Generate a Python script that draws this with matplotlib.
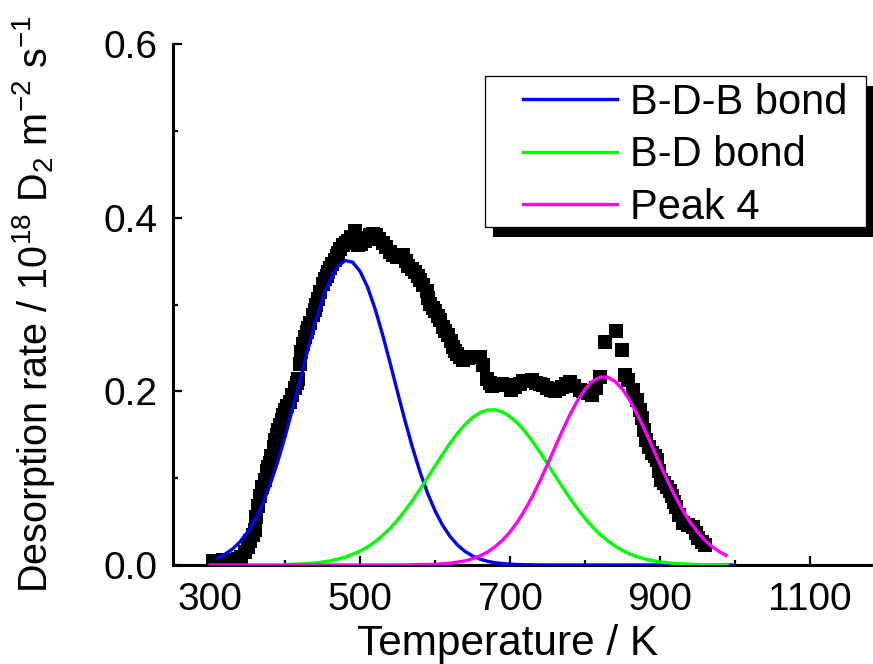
import matplotlib
matplotlib.use("Agg")
import matplotlib.pyplot as plt
from matplotlib.patches import Rectangle

plt.rcParams['font.family'] = ['Liberation Sans', 'DejaVu Sans']
plt.rcParams['mathtext.fontset'] = 'custom'
plt.rcParams['mathtext.rm'] = 'Liberation Sans'
plt.rcParams['mathtext.it'] = 'Liberation Sans:italic'
plt.rcParams['mathtext.bf'] = 'Liberation Sans:bold'

# ---- measured data (black squares) ----
data_T = [304, 310, 318, 331, 337, 342, 347, 351, 354, 357, 360, 362, 364, 367, 370,
          373, 376, 378, 380, 382, 385, 387, 389, 391, 394, 396, 398, 400, 403, 407,
          410, 413, 416, 418, 420, 422, 424, 427, 429, 431, 433, 437, 440, 442, 444,
          447, 451, 453, 456, 458, 460, 463, 467, 469, 471, 474, 478, 481, 484, 488,
          493, 496, 498, 502, 507, 510, 513, 517, 522, 526, 531, 535, 540, 544, 549,
          553, 558, 561, 564, 569, 573, 577, 580, 584, 589, 591, 593, 597, 600, 604,
          607, 611, 614, 618, 621, 624, 627, 629, 633, 638, 644, 648, 654, 660, 664,
          669, 673, 676, 682, 689, 695, 702, 707, 713, 718, 724, 729, 735, 740, 744,
          750, 755, 760, 765, 769, 775, 780, 786, 793, 798, 804, 809, 815, 820, 827,
          842, 849, 853, 858, 864, 869, 873, 876, 879, 882, 886, 889, 893, 896, 899,
          902, 906, 909, 913, 916, 919, 922, 926, 931, 938, 944, 948, 951, 956, 960]
data_rate = [0.005, 0.004, 0.006, 0.006, 0.007, 0.009, 0.015, 0.021, 0.028, 0.034, 0.040, 0.055, 0.068, 0.080, 0.090,
             0.098, 0.108, 0.113, 0.117, 0.125, 0.136, 0.144, 0.150, 0.155, 0.161, 0.167, 0.173, 0.179, 0.183, 0.188,
             0.196, 0.204, 0.210, 0.214, 0.232, 0.245, 0.255, 0.262, 0.268, 0.273, 0.279, 0.288, 0.294, 0.300, 0.306,
             0.314, 0.324, 0.329, 0.333, 0.338, 0.342, 0.347, 0.351, 0.356, 0.359, 0.364, 0.369, 0.371, 0.373, 0.378,
             0.385, 0.372, 0.369, 0.370, 0.373, 0.377, 0.380, 0.381, 0.380, 0.376, 0.371, 0.366, 0.361, 0.357, 0.355,
             0.356, 0.357, 0.350, 0.344, 0.341, 0.338, 0.333, 0.328, 0.322, 0.315, 0.308, 0.301, 0.296, 0.292, 0.287,
             0.282, 0.274, 0.270, 0.265, 0.258, 0.251, 0.246, 0.243, 0.240, 0.236, 0.238, 0.240, 0.239, 0.240, 0.230,
             0.214, 0.210, 0.206, 0.208, 0.209, 0.207, 0.202, 0.205, 0.209, 0.212, 0.212, 0.213, 0.210, 0.208, 0.207,
             0.204, 0.201, 0.200, 0.203, 0.205, 0.209, 0.211, 0.206, 0.202, 0.200, 0.198, 0.196, 0.204, 0.217, 0.257,
             0.269, 0.248, 0.219, 0.213, 0.202, 0.190, 0.179, 0.169, 0.156, 0.144, 0.136, 0.129, 0.125, 0.121, 0.108,
             0.098, 0.094, 0.090, 0.085, 0.079, 0.073, 0.067, 0.058, 0.048, 0.046, 0.044, 0.037, 0.031, 0.027, 0.023]

# ---- fitted components ----
bdb_T = [310, 320, 330, 340, 350, 360, 370, 380, 390, 400, 410, 420, 430, 440, 450,
         460, 470, 480, 490, 500, 510, 520, 530, 540, 550, 560, 570, 580, 590, 600,
         610, 620, 630, 640, 650, 660, 670, 680, 700, 720, 750, 800, 900, 995]
bdb_rate = [0.0081, 0.0124, 0.0184, 0.0267, 0.0378, 0.0522, 0.0702, 0.0922, 0.1181, 0.1474, 0.1794, 0.2129, 0.2464, 0.2781, 0.3060,
            0.3284, 0.3436, 0.3506, 0.3488, 0.3384, 0.3202, 0.2954, 0.2657, 0.2331, 0.1994, 0.1663, 0.1353, 0.1073, 0.0830, 0.0626,
            0.0460, 0.0330, 0.0231, 0.0157, 0.0105, 0.0068, 0.0043, 0.0026, 0.0009, 0.0003, 0.0000, 0.0000, 0.0000, 0.0000]

bd_T = [400, 420, 440, 460, 480, 500, 510, 520, 530, 540, 550, 560, 570, 580, 590,
        600, 610, 620, 630, 640, 650, 660, 670, 680, 690, 700, 710, 720, 730, 740,
        750, 760, 770, 780, 790, 800, 810, 820, 830, 840, 850, 860, 870, 880, 900,
        920, 950, 990]
bd_rate = [0.0005, 0.0011, 0.0023, 0.0047, 0.0089, 0.0159, 0.0208, 0.0267, 0.0339, 0.0422, 0.0518, 0.0626, 0.0744, 0.0871, 0.1004,
           0.1140, 0.1274, 0.1401, 0.1517, 0.1618, 0.1698, 0.1755, 0.1785, 0.1788, 0.1763, 0.1711, 0.1635, 0.1539, 0.1425, 0.1300,
           0.1167, 0.1031, 0.0898, 0.0769, 0.0649, 0.0538, 0.0440, 0.0354, 0.0281, 0.0219, 0.0168, 0.0127, 0.0095, 0.0069, 0.0035,
           0.0017, 0.0005, 0.0001]

p4_T = [300, 500, 560, 600, 620, 640, 650, 660, 670, 680, 690, 700, 710, 720, 730,
        740, 750, 760, 770, 780, 790, 800, 810, 820, 830, 840, 850, 860, 870, 880,
        890, 900, 910, 920, 930, 940, 950, 960, 970, 980, 988]
p4_rate = [0.0000, 0.0000, 0.0001, 0.0008, 0.0020, 0.0048, 0.0072, 0.0105, 0.0149, 0.0209, 0.0285, 0.0381, 0.0497, 0.0636, 0.0794,
           0.0970, 0.1160, 0.1355, 0.1549, 0.1732, 0.1893, 0.2024, 0.2116, 0.2164, 0.2164, 0.2116, 0.2024, 0.1893, 0.1732, 0.1549,
           0.1355, 0.1160, 0.0970, 0.0794, 0.0636, 0.0497, 0.0381, 0.0285, 0.0209, 0.0149, 0.0113]

series_labels = ["B-D-B bond", "B-D bond", "Peak 4"]
x_ticks = [300, 500, 700, 900, 1100]
y_ticks = [0.0, 0.2, 0.4, 0.6]

W, H = 873, 664
fig = plt.figure(figsize=(W / 100, H / 100), dpi=100)
ax = fig.add_axes([172.7 / W, 1 - 565 / H, 1 - 172.7 / W, (565 - 44) / H])

ax.plot(data_T, data_rate, linestyle='none', marker='s', markersize=9.5,
        color='black', markeredgewidth=0, zorder=2)
ax.plot(bdb_T, bdb_rate, color='#0000FF', lw=2.4, label=series_labels[0], zorder=3)
ax.plot(bd_T, bd_rate, color='#00FF00', lw=2.4, label=series_labels[1], zorder=3)
ax.plot(p4_T, p4_rate, color='#FF00FF', lw=2.4, label=series_labels[2], zorder=3)

ax.set_xlim(250.3, 1184)
ax.set_ylim(0, 0.6)
ax.set_xticks(x_ticks)
ax.set_xticks([400, 600, 800, 1000], minor=True)
ax.set_yticks(y_ticks)
ax.set_yticks([0.1, 0.3, 0.5], minor=True)
ax.set_yticklabels(["0.0", "0.2", "0.4", "0.6"])

for s in ['top', 'right']:
    ax.spines[s].set_visible(False)
for s in ['left', 'bottom']:
    ax.spines[s].set_linewidth(2.2)

ax.tick_params(which='major', direction='in', length=6.5, width=1.6, labelsize=28, pad=11)
ax.tick_params(which='minor', direction='in', length=3.5, width=1.6)
ax.tick_params(axis='x', which='major', pad=12)

ax.set_xlabel("Temperature / K", fontsize=30.5)
ax.xaxis.set_label_coords((507.5 - 172.7) / (W - 172.7), -(655 + 9 - 565) / (565 - 44), transform=ax.transAxes)
ax.xaxis.label.set_va('bottom')
ax.set_ylabel(r"Desorption rate / 10$^{\mathregular{18}}$ D$_{\mathregular{2}}$ m$^{\mathregular{-2}}$ s$^{\mathregular{-1}}$",
              fontsize=28.5, labelpad=33)

# legend frame and shadow (figure pixel geometry)
fx0, fx1, fy0, fy1 = 485, 866, 76, 227
shadow = Rectangle(((fx0 + 8) / W, 1 - (fy1 + 10) / H), (fx1 - fx0) / W, (fy1 - fy0) / H,
                   transform=fig.transFigure, facecolor='black', edgecolor='none',
                   zorder=4.8, clip_on=False)
frame = Rectangle((fx0 / W, 1 - fy1 / H), (fx1 - fx0) / W, (fy1 - fy0) / H,
                  transform=fig.transFigure, facecolor='white', edgecolor='black',
                  linewidth=0.9, zorder=4.9, clip_on=False)
ax.add_artist(shadow)
ax.add_artist(frame)

leg = ax.legend(loc='upper left', bbox_to_anchor=(523 / W, 1 - 83 / H),
                bbox_transform=fig.transFigure, fontsize=30, frameon=False,
                borderaxespad=0, borderpad=0, handlelength=2.25,
                handletextpad=0.31, labelspacing=0.3)
leg.set_zorder(5)

fig.savefig("out.png", dpi=100)
